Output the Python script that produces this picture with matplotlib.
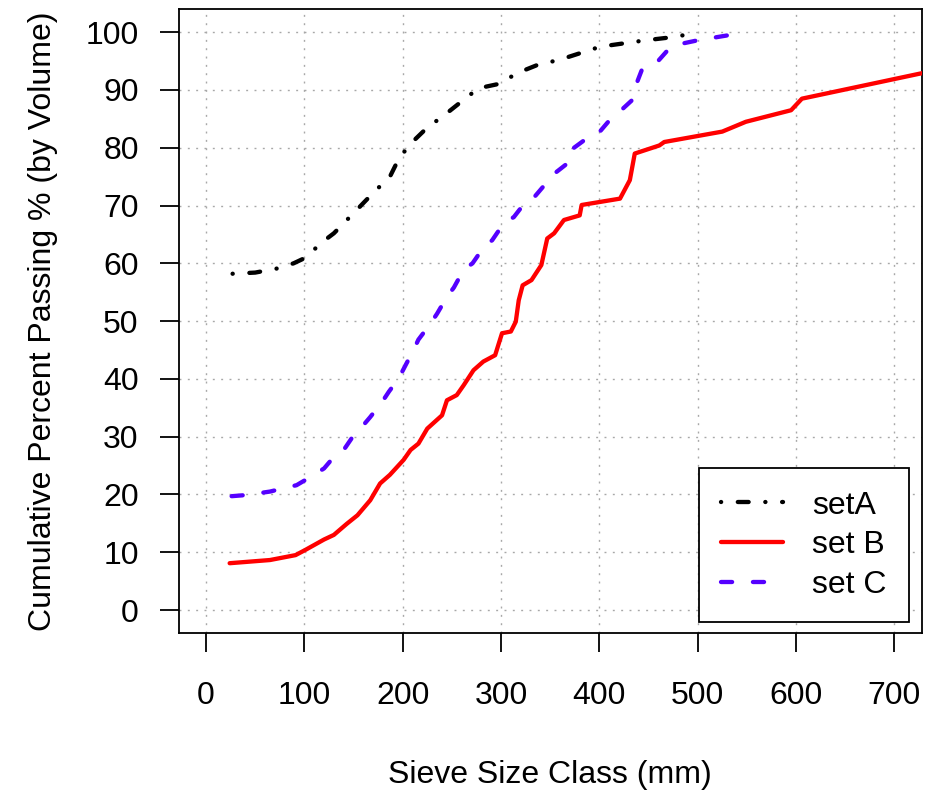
import matplotlib
matplotlib.use("Agg")
import matplotlib.pyplot as plt

plt.rcParams['font.family'] = ['Liberation Sans', 'DejaVu Sans']
plt.rcParams['lines.scale_dashes'] = False

# cumulative passing curves
setA_x = [27, 50, 72, 89, 99, 123, 130, 153, 170, 187, 196, 208, 225, 242, 259,
          277, 299, 316, 338, 359, 401, 426, 447, 472, 490, 501]
setA_y = [58.2, 58.4, 59.1, 60.0, 60.8, 64.3, 65.2, 69.2, 72.2, 75.0, 78.1, 80.7,
          83.5, 85.6, 87.9, 90.3, 91.1, 92.9, 94.4, 95.2, 97.5, 98.1, 98.6, 99.1,
          99.6, 100.0]

setB_x = [24, 65, 91, 101, 120, 130, 143, 154, 167, 177, 187, 201, 208, 216, 225,
          240, 245, 255, 262, 272, 282, 294, 301, 310, 315, 318, 322, 331, 341, 347,
          354, 364, 380, 382, 421, 431, 436, 461, 466, 525, 549, 595, 606, 725, 760]
setB_y = [8.1, 8.65, 9.5, 10.4, 12.2, 13.0, 14.9, 16.4, 19.0, 21.9, 23.4, 26.0,
          27.7, 28.8, 31.4, 33.7, 36.3, 37.2, 38.9, 41.5, 43.0, 44.1, 47.9, 48.2,
          49.9, 53.6, 56.2, 57.1, 59.7, 64.3, 65.2, 67.5, 68.3, 70.1, 71.2, 74.4,
          79.0, 80.4, 81.0, 82.8, 84.5, 86.5, 88.5, 92.8, 94.0]

setC_x = [26, 41, 65, 92, 101, 120, 126, 140, 148, 159, 167, 179, 186, 196, 203,
          211, 216, 228, 235, 245, 252, 262, 271, 282, 291, 303, 313, 323, 333, 347,
          354, 369, 371, 387, 399, 412, 419, 433, 436, 443, 456, 468, 475, 500, 532, 546]
setC_y = [19.7, 19.9, 20.5, 21.6, 22.5, 24.5, 25.7, 27.7, 29.7, 31.8, 33.4, 36.0,
          37.8, 40.1, 42.4, 45.0, 46.8, 49.5, 51.3, 54.2, 55.8, 58.9, 60.0, 62.7,
          64.0, 67.0, 68.0, 70.2, 71.3, 74.1, 75.5, 77.5, 79.6, 81.6, 82.5, 85.1,
          86.0, 88.2, 90.3, 93.4, 94.3, 96.6, 97.7, 98.6, 99.5, 99.9]

x_ticks = [0, 100, 200, 300, 400, 500, 600, 700]
y_ticks = [0, 10, 20, 30, 40, 50, 60, 70, 80, 90, 100]

fs = 23

fig = plt.figure(figsize=(9.43, 7.92), dpi=100)
ax = fig.add_axes([0.1893, 0.2006, 0.7883, 0.7879])

# dotted grid at every tick, across the whole panel
for xv in x_ticks:
    ax.axvline(xv, color='#a8a8a8', lw=1.0, ls=(0, (1.4, 4.6)), zorder=1)
for yv in y_ticks:
    ax.axhline(yv, color='#a8a8a8', lw=1.0, ls=(0, (1.4, 4.6)), zorder=1)

ax.plot(setA_x, setA_y, color='black', lw=3.1, ls=(0, (0.1, 12.0, 7.8, 12.0)),
        dash_capstyle='round', label='setA', zorder=3)
ax.plot(setB_x, setB_y, color='#ff0000', lw=3.1, solid_capstyle='round',
        label='set B', zorder=3)
ax.plot(setC_x, setC_y, color='#5500ff', lw=3.1, ls=(0, (8.0, 15.0)),
        dash_capstyle='round', label='set C', zorder=3)

ax.set_xlim(-28, 728)
ax.set_ylim(-4, 104)
ax.set_xticks(x_ticks)
ax.set_yticks(y_ticks)
ax.tick_params(direction='out', length=13.7, width=1.3, labelsize=fs)
ax.tick_params(axis='x', pad=21)
ax.tick_params(axis='y', pad=15)
for sp in ax.spines.values():
    sp.set_linewidth(1.3)

ax.set_xlabel('Sieve Size Class (mm)', fontsize=fs, va='center')
ax.set_ylabel('Cumulative Percent Passing % (by Volume)', fontsize=fs, va='center')
ax.xaxis.set_label_coords(0.5, -0.2266)
ax.yaxis.set_label_coords(-0.1823, 0.5)

leg = ax.legend(loc='lower right', bbox_to_anchor=(0.9825, 0.0176), borderaxespad=0,
                fontsize=fs, handlelength=1.94, handletextpad=0.9, labelspacing=0.3,
                borderpad=0.7, fancybox=False, framealpha=1, edgecolor='black')
leg.get_frame().set_linewidth(1.3)

fig.savefig('out.png', dpi=100)
